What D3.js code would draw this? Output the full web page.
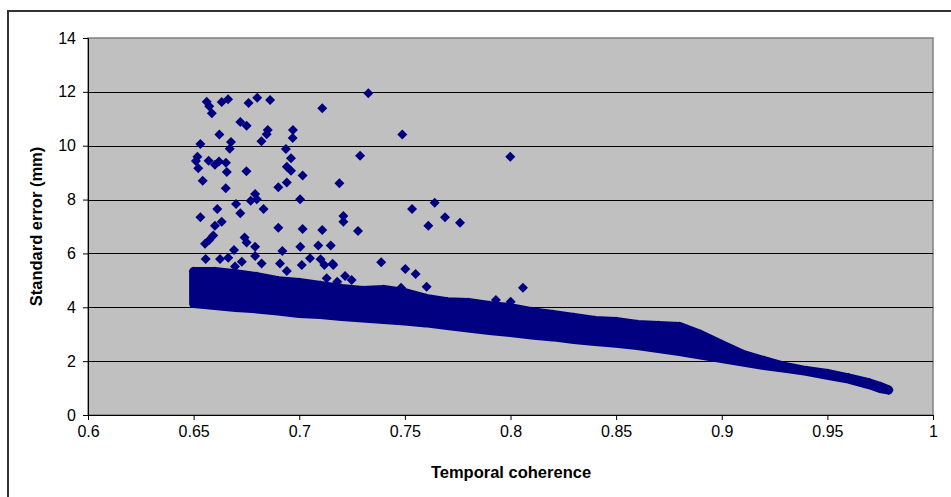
<!DOCTYPE html>
<html>
<head>
<meta charset="utf-8">
<script src="https://cdn.jsdelivr.net/npm/d3@7"></script>
<style>
  body { margin: 0; background: #fff; }
  text { font-family: Arial, "Liberation Sans", sans-serif; }
</style>
</head>
<body>
<div id="chart"></div>
<script>
// axis ticks
var xTicks = [0.6, 0.65, 0.7, 0.75, 0.8, 0.85, 0.9, 0.95, 1];
var yTicks = [0, 2, 4, 6, 8, 10, 12, 14];

// dense band of points, read as upper / lower envelope of marker centres
var bandCoh = [0.650, 0.660, 0.670, 0.680, 0.690, 0.700, 0.710, 0.720, 0.730, 0.740,
               0.750, 0.760, 0.770, 0.780, 0.790, 0.800, 0.810, 0.820, 0.830, 0.840,
               0.850, 0.860, 0.870, 0.880, 0.890, 0.900, 0.910, 0.920, 0.930, 0.940,
               0.950, 0.960, 0.970, 0.975, 0.979];
var bandTop = [5.33, 5.33, 5.25, 5.14, 4.99, 4.92, 4.81, 4.70, 4.62, 4.66,
               4.55, 4.33, 4.21, 4.18, 4.07, 3.99, 3.84, 3.73, 3.62, 3.51,
               3.47, 3.36, 3.32, 3.29, 2.99, 2.62, 2.25, 2.02, 1.80, 1.65,
               1.54, 1.38, 1.19, 1.06, 0.93];
var bandLow = [4.14, 4.07, 3.99, 3.94, 3.86, 3.77, 3.73, 3.66, 3.60, 3.55,
               3.49, 3.42, 3.32, 3.23, 3.14, 3.06, 2.97, 2.90, 2.80, 2.73,
               2.66, 2.58, 2.47, 2.36, 2.23, 2.10, 1.97, 1.84, 1.73, 1.62,
               1.47, 1.33, 1.12, 0.98, 0.93];

// scattered points outside the band
var outCoh = [0.6562, 0.6574, 0.6586, 0.6633, 0.6663, 0.6760, 0.6801, 0.6862, 0.7109, 0.7327,
              0.6622, 0.6721, 0.6751, 0.6821, 0.6846, 0.6851, 0.6970, 0.6969, 0.7488, 0.6532,
              0.6677, 0.6671, 0.6937, 0.7288, 0.7999, 0.6518, 0.6511, 0.6522, 0.6571, 0.6601,
              0.6620, 0.6653, 0.6657, 0.6750, 0.6961, 0.6941, 0.6961, 0.7016, 0.6543, 0.6652,
              0.6901, 0.6941, 0.7190, 0.6791, 0.6799, 0.6770, 0.7004, 0.7641, 0.7534, 0.6612,
              0.6701, 0.6721, 0.6831, 0.7209, 0.7209, 0.7690, 0.7611, 0.7761, 0.6532, 0.6633,
              0.6601, 0.6901, 0.7016, 0.7109, 0.7278, 0.6593, 0.6574, 0.6554, 0.6741, 0.6751,
              0.6791, 0.6691, 0.6791, 0.6920, 0.7005, 0.7090, 0.7149, 0.6822, 0.6909, 0.7012,
              0.7051, 0.7101, 0.7158, 0.7388, 0.7502, 0.7551, 0.7217, 0.7482, 0.7603, 0.7931,
              0.8001, 0.8059, 0.6557, 0.6625, 0.6664, 0.6728, 0.6696, 0.6941, 0.7119, 0.7161,
              0.7248, 0.7180, 0.7130];
var outErr = [11.63, 11.47, 11.21, 11.62, 11.73, 11.59, 11.78, 11.70, 11.39, 11.95,
              10.42, 10.88, 10.74, 10.17, 10.43, 10.58, 10.58, 10.29, 10.42, 10.06,
              10.14, 9.89, 9.88, 9.63, 9.59, 9.59, 9.43, 9.16, 9.44, 9.29,
              9.41, 9.37, 9.02, 9.05, 9.53, 9.22, 9.07, 8.89, 8.70, 8.42,
              8.46, 8.63, 8.61, 8.21, 8.01, 7.96, 8.01, 7.88, 7.65, 7.65,
              7.84, 7.49, 7.65, 7.39, 7.18, 7.34, 7.03, 7.14, 7.34, 7.18,
              7.03, 6.95, 6.91, 6.87, 6.83, 6.67, 6.50, 6.36, 6.59, 6.41,
              6.25, 6.13, 5.90, 6.09, 6.25, 6.29, 6.29, 5.63, 5.63, 5.57,
              5.82, 5.78, 5.62, 5.67, 5.42, 5.24, 5.16, 4.73, 4.76, 4.27,
              4.21, 4.73, 5.79, 5.79, 5.84, 5.69, 5.51, 5.35, 5.57, 5.57,
              5.01, 4.95, 5.08];

var W = 951, H = 497;
var plotL = 88, plotR = 933, plotT = 38, plotB = 415;
var navy = "#000080";

var svg = d3.select("#chart").append("svg")
  .attr("width", W)
  .attr("height", H);

// outer chart frame (runs off the right and bottom of the picture)
svg.append("rect")
  .attr("x", 8).attr("y", 11)
  .attr("width", 1000).attr("height", 1000)
  .style("fill", "none")
  .style("stroke", "#333")
  .style("stroke-width", 2);

var x = d3.scaleLinear().domain([0.6, 1]).range([plotL, plotR]);
var y = d3.scaleLinear().domain([0, 14]).range([plotB, plotT]);

// plot area
svg.append("rect")
  .attr("x", plotL).attr("y", plotT)
  .attr("width", plotR - plotL).attr("height", plotB - plotT)
  .style("fill", "#c0c0c0")
  .style("stroke", "#808080")
  .style("stroke-width", 1.5);

// gridlines
svg.append("g").selectAll("line")
  .data(yTicks.filter(function(d) { return d > 0 && d < 14; }))
  .enter().append("line")
  .attr("x1", plotL).attr("x2", plotR)
  .attr("y1", function(d) { return Math.round(y(d)) + 0.5; })
  .attr("y2", function(d) { return Math.round(y(d)) + 0.5; })
  .style("stroke", "#000")
  .style("stroke-width", 1);

// the dense band
var band = bandCoh.map(function(c, i) { return { c: c, hi: bandTop[i], lo: bandLow[i] }; });
var area = d3.area()
  .x(function(d) { return x(d.c); })
  .y0(function(d) { return y(d.lo); })
  .y1(function(d) { return y(d.hi); });

svg.append("path")
  .datum(band)
  .attr("d", area)
  .style("fill", navy)
  .style("stroke", navy)
  .style("stroke-width", 9)
  .style("stroke-linejoin", "round");

var diamond = "M0,-5L5,0L0,5L-5,0Z";

// markers along the band edge
svg.append("g").selectAll("path")
  .data(band)
  .enter().append("path")
  .attr("d", diamond)
  .attr("transform", function(d) { return "translate(" + x(d.c) + "," + y(d.hi) + ")"; })
  .style("fill", navy);

// outlying points
var pts = outCoh.map(function(c, i) { return { c: c, e: outErr[i] }; });
svg.append("g").selectAll("path")
  .data(pts)
  .enter().append("path")
  .attr("d", diamond)
  .attr("transform", function(d) { return "translate(" + x(d.c) + "," + y(d.e) + ")"; })
  .style("fill", navy);

// axes
var xAxis = d3.axisBottom(x).tickValues(xTicks).tickSize(5).tickPadding(6)
  .tickFormat(function(d) { return String(d); });
var yAxis = d3.axisLeft(y).tickValues(yTicks).tickSize(5).tickPadding(7)
  .tickFormat(function(d) { return String(d); });

var gx = svg.append("g")
  .attr("transform", "translate(0," + plotB + ")")
  .call(xAxis);
var gy = svg.append("g")
  .attr("transform", "translate(" + plotL + ",0)")
  .call(yAxis);

[gx, gy].forEach(function(g) {
  g.select(".domain").style("stroke", "#000");
  g.selectAll(".tick line").style("stroke", "#000");
  g.selectAll(".tick text")
    .style("font-family", "Arial, 'Liberation Sans', sans-serif")
    .style("font-size", "16px")
    .style("fill", "#000");
});

// axis titles
svg.append("text")
  .attr("x", (plotL + plotR) / 2 + 0.5)
  .attr("y", 478)
  .attr("text-anchor", "middle")
  .style("font-size", "16.5px")
  .style("font-weight", "bold")
  .text("Temporal coherence");

svg.append("text")
  .attr("transform", "translate(42," + ((plotT + plotB) / 2) + ") rotate(-90)")
  .attr("text-anchor", "middle")
  .style("font-size", "16.5px")
  .style("font-weight", "bold")
  .text("Standard error (mm)");
</script>
</body>
</html>
